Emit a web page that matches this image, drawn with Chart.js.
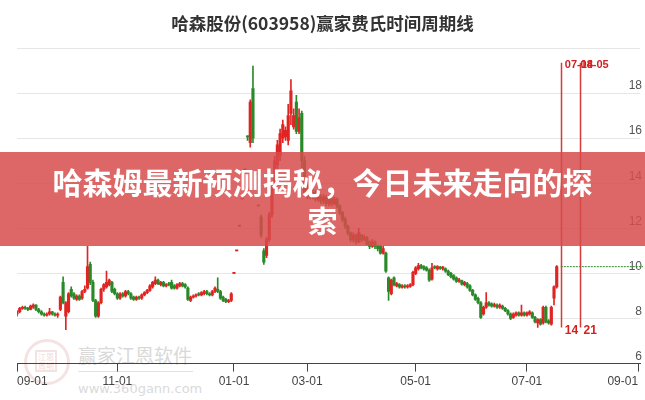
<!DOCTYPE html>
<html>
<head>
<meta charset="utf-8">
<script src="https://cdn.jsdelivr.net/npm/chart.js@4.4.1/dist/chart.umd.min.js"></script>
<style>
  html, body { margin: 0; padding: 0; background: #fff; }
  #cadre { position: relative; width: 645px; height: 400px; overflow: hidden; font-family: 'Noto Sans CJK SC', sans-serif; }
  #graph { position: absolute; left: 0; top: 0; }
  #titre { position: absolute; left: 0; top: 12px; width: 645px; text-align: center; font-size: 17.5px; font-weight: bold; color: #333; line-height: 22px; }
  #bandeau { position: absolute; left: 0; top: 152px; width: 645px; height: 94px; background: rgba(215, 75, 75, 0.85);
             color: #fff; font-weight: bold; font-size: 30px; line-height: 37.5px; text-align: center; padding-top: 11px; box-sizing: border-box; }
  #filigrane { position: absolute; left: 0; top: 0; width: 645px; height: 400px; }
  .sceau { position: absolute; left: 24px; top: 339px; width: 40px; height: 40px; border-radius: 50%; border: 3px solid rgba(215, 140, 140, 0.25); }
  .sceau div { position: absolute; left: 8px; top: 8px; width: 18px; height: 18px; border: 2px solid rgba(215, 140, 140, 0.25); font-size: 8px; line-height: 9px; color: rgba(215, 140, 140, 0.35); text-align: center; }
  .fil1 { position: absolute; left: 78px; top: 343px; font-size: 19px; color: #d9d9d9; line-height: 24px; }
  .fil2 { position: absolute; left: 78px; top: 381px; font-size: 13px; color: #dadada; font-family: 'DejaVu Sans', sans-serif; line-height: 16px; }
  .fil3 { position: absolute; left: 78px; top: 371px; width: 115px; height: 1px; background: #e2e2e2; }
</style>
</head>
<body>
<div id="cadre">
  <div id="filigrane">
    <div class="sceau"><div>江恩<br>周期</div></div>
    <div class="fil1">赢家江恩软件</div>
    <div class="fil3"></div>
    <div class="fil2">www.360gann.com</div>
  </div>
  <canvas id="graph" width="645" height="400"></canvas>
  <div id="titre">哈森股份(603958)赢家费氏时间周期线</div>
  <div id="bandeau">哈森姆最新预测揭秘，今日未来走向的探<br>索</div>
</div>
<script>
// Donnees (une bougie par seance, index = numero de seance)
var openP = [
  8.2,8.3,8.45,8.5,8.45,8.4,8.5,8.6,8.4,8.3,
  8.2,8.15,8.2,8.3,8.2,8.15,8.4,9.6,8.1,8.3,
  9.3,9.1,8.85,9.0,8.9,9.2,9.35,10.4,9.6,8.8,
  8.1,8.7,9.3,9.4,9.5,9.6,9.3,9.1,8.9,9.1,
  9.0,9.2,9.1,8.95,8.85,8.95,8.9,9.05,9.15,9.25,
  9.4,9.55,9.7,9.5,9.6,9.45,9.55,9.6,9.45,9.35,
  9.45,9.55,9.5,9.35,8.8,8.95,9.0,9.1,9.05,9.1,
  9.2,9.1,9.05,9.2,9.3,9.2,8.95,8.85,8.75,8.8,
  10.0,11.0,12.1,13.3,14.6,16.1,15.8,18.2,14.4,13.0,
  12.5,11.0,10.8,11.5,12.6,13.9,14.8,15.2,16.0,16.05,
  15.9,17.1,16.5,17.6,16.3,17.1,15.0,13.5,13.8,13.4,
  13.6,13.3,13.4,13.2,13.4,13.1,13.3,13.1,13.3,13.0,
  12.7,12.4,12.1,11.8,11.5,11.7,11.4,11.7,11.5,11.6,
  11.4,11.2,11.4,11.2,11.2,10.9,10.9,9.8,9.1,9.8,
  9.45,9.5,9.38,9.45,9.4,9.42,9.5,10.0,10.2,10.35,
  10.3,10.25,10.15,9.75,10.3,10.2,10.28,10.2,10.2,10.1,
  10.0,9.9,9.8,9.65,9.68,9.5,9.55,9.45,9.25,9.05,
  8.9,8.7,8.2,8.5,8.7,8.65,8.55,8.6,8.5,8.55,
  8.45,8.35,8.2,8.05,8.15,8.25,8.15,8.25,8.15,8.2,
  8.25,8.05,7.8,7.95,7.8,8.5,7.9,7.75,8.9,9.4
];
var closeP = [
  8.3,8.45,8.5,8.45,8.4,8.55,8.6,8.4,8.3,8.2,
  8.15,8.2,8.3,8.2,8.15,8.2,8.95,8.7,8.7,9.1,
  9.0,8.9,9.0,8.85,9.2,9.3,10.3,9.6,8.8,8.1,
  8.7,9.3,9.5,9.6,9.7,9.2,9.1,8.9,9.1,9.0,
  9.2,9.1,8.9,8.85,8.95,8.9,9.05,9.15,9.25,9.45,
  9.6,9.7,9.55,9.6,9.45,9.5,9.5,9.35,9.35,9.5,
  9.55,9.45,9.4,8.85,8.95,9.0,9.05,9.05,9.15,9.2,
  9.1,9.05,9.2,9.35,9.2,8.9,8.8,8.75,8.8,9.1,
  10.0,11.0,12.1,13.3,14.6,16.05,17.6,16.0,14.4,13.0,
  11.7,10.5,11.5,12.6,13.9,15.0,15.7,16.2,16.6,16.35,
  17.0,18.1,17.0,16.3,16.9,15.0,13.6,13.9,13.4,13.6,
  13.3,13.5,13.2,13.4,13.1,13.3,13.1,13.3,13.0,12.7,
  12.4,12.1,11.8,11.5,11.7,11.4,11.8,11.5,11.6,11.3,
  11.2,11.4,11.2,11.1,10.9,11.1,10.1,9.2,9.7,9.5,
  9.55,9.4,9.45,9.4,9.45,9.5,10.05,10.25,10.35,10.25,
  10.2,10.15,9.7,10.25,10.25,10.3,10.22,10.28,10.1,9.95,
  9.85,9.75,9.65,9.72,9.52,9.6,9.4,9.25,9.05,8.85,
  8.7,8.05,8.5,8.7,8.6,8.55,8.62,8.5,8.6,8.45,
  8.35,8.2,8.0,8.2,8.25,8.15,8.25,8.15,8.25,8.3,
  8.05,7.85,7.95,7.75,8.5,7.85,7.8,8.5,9.4,10.3
];
var highP = [
  8.35,8.5,8.55,8.55,8.5,8.6,8.65,8.62,8.45,8.35,
  8.25,8.25,8.45,8.32,8.25,8.25,9.0,9.85,8.75,9.15,
  9.4,9.15,9.05,9.05,9.25,9.45,11.2,10.5,9.7,8.85,
  8.75,9.35,9.55,10.1,9.75,9.65,9.35,9.15,9.15,9.15,
  9.25,9.25,9.15,9.0,9.0,9.0,9.1,9.2,9.3,9.5,
  9.65,9.85,9.75,9.65,9.65,9.55,9.6,9.7,9.5,9.55,
  9.6,9.6,9.55,9.4,9.0,9.05,9.1,9.15,9.2,9.25,
  9.25,9.15,9.25,9.4,9.8,9.25,9.0,8.9,8.85,9.15,
  10.0,11.0,12.1,13.3,14.6,16.1,17.7,19.2,14.4,13.0,
  12.6,11.1,11.6,12.7,13.9,15.2,15.9,16.4,16.8,16.5,
  17.5,18.6,17.3,17.9,17.3,17.2,15.2,14.1,13.9,13.7,
  13.7,13.6,13.5,13.5,13.45,13.4,13.35,13.4,13.35,13.05,
  12.75,12.5,12.15,11.85,11.8,11.75,12.0,11.75,11.7,11.65,
  11.45,11.5,11.45,11.25,11.25,11.2,10.95,9.85,9.75,9.85,
  9.6,9.55,9.5,9.5,9.5,9.55,10.1,10.3,10.45,10.4,
  10.35,10.3,10.2,10.45,10.35,10.35,10.32,10.32,10.25,10.15,
  10.05,9.95,9.85,9.78,9.7,9.65,9.6,9.5,9.3,9.1,
  8.95,8.75,8.55,9.15,8.75,8.7,8.68,8.65,8.65,8.6,
  8.5,8.4,8.25,8.25,8.3,8.3,8.6,8.3,8.3,8.35,
  8.3,8.1,8.0,8.0,8.55,8.55,7.95,8.55,9.45,10.35
];
var lowP = [
  8.1,8.25,8.4,8.4,8.35,8.38,8.45,8.35,8.25,8.15,
  8.1,8.1,8.15,8.15,8.1,8.05,8.35,8.65,7.5,8.25,
  8.95,8.85,8.8,8.8,8.85,9.15,9.3,9.5,8.75,8.05,
  8.05,8.65,9.2,9.35,9.45,9.15,9.05,8.85,8.85,8.95,
  8.95,9.05,8.85,8.8,8.8,8.85,8.85,9.0,9.1,9.2,
  9.35,9.5,9.5,9.45,9.4,9.4,9.45,9.3,9.3,9.3,
  9.4,9.4,9.35,8.8,8.75,8.9,8.95,9.0,9.0,9.05,
  9.05,9.0,9.0,9.15,9.15,8.85,8.75,8.7,8.7,8.75,
  10.0,11.0,12.1,13.3,14.6,15.9,15.6,15.8,14.4,13.0,
  11.6,10.4,10.7,11.4,12.5,13.8,14.6,15.0,15.8,15.9,
  15.7,16.6,16.4,16.2,16.2,14.6,13.5,13.3,13.3,13.3,
  13.2,13.2,13.1,13.1,13.0,13.0,13.0,13.05,12.9,12.6,
  12.3,12.0,11.7,11.4,11.4,11.3,11.35,11.4,11.45,11.25,
  11.1,11.15,11.1,11.0,10.85,10.85,10.05,8.8,9.05,9.45,
  9.4,9.35,9.35,9.35,9.35,9.38,9.45,9.95,10.15,10.2,
  10.15,10.1,9.65,9.7,10.2,10.15,10.18,10.15,10.05,9.9,
  9.8,9.7,9.6,9.6,9.48,9.45,9.35,9.2,9.0,8.8,
  8.65,8.0,8.15,8.45,8.55,8.5,8.5,8.45,8.45,8.4,
  8.3,8.15,7.95,8.0,8.1,8.1,8.1,8.1,8.1,8.15,
  8.0,7.8,7.6,7.7,7.75,7.8,7.75,7.7,8.6,9.35
];

// Axe des dates (index de seance -> libelle)
var tickIdx = [0, 37, 80, 107, 147, 188, 229];
var tickText = ['09-01', '11-01', '01-01', '03-01', '05-01', '07-01', '09-01'];
var xMax = 229.7;

// Lignes de cycle (index de seance) et leurs libelles
var cycleIdx = [200.5, 207.4];
var cycleHaut = ['07-14', '08-05'];
var cycleBas = ['14', '21'];
var cycleTop = 19.35;
var cycleBottom = 7.6;

var ROUGE = '#e02424';
var VERT = '#2a8a2a';
var NARROW = "'Liberation Sans Narrow', 'Liberation Sans', Arial, sans-serif";

// couleur de chaque bougie
var couleurs = [];
for (var i = 0; i < closeP.length; i++) {
    var hausse = closeP[i] > openP[i] || (closeP[i] == openP[i] && (i == 0 || closeP[i] >= closeP[i - 1]));
    couleurs.push(hausse ? ROUGE : VERT);
}
var ombres = [];
var corps = [];
for (var i = 0; i < closeP.length; i++) {
    ombres.push({x: i, y: [lowP[i], highP[i]]});
    corps.push({x: i, y: [openP[i], closeP[i]]});
}

// Dessin des lignes de cycle + ligne pointillee du dernier cours
const pluginCycle = {
    id: 'cycle',
    afterDatasetsDraw(chart) {
        const ctx = chart.ctx;
        const x = chart.scales.x;
        const y = chart.scales.y;
        ctx.save();
        // pointilles verts au niveau du dernier cours
        var yDernier = y.getPixelForValue(closeP[closeP.length - 1]);
        ctx.strokeStyle = VERT;
        ctx.lineWidth = 1;
        ctx.setLineDash([2, 1]);
        ctx.beginPath();
        ctx.moveTo(x.getPixelForValue(cycleIdx[0]), yDernier);
        ctx.lineTo(chart.width - 2, yDernier);
        ctx.stroke();
        ctx.setLineDash([]);
        // lignes verticales rouges
        ctx.strokeStyle = '#d83a3a';
        ctx.lineWidth = 1.5;
        for (var k = 0; k < cycleIdx.length; k++) {
            var px = Math.round(x.getPixelForValue(cycleIdx[k])) + 0.5;
            ctx.beginPath();
            ctx.moveTo(px, y.getPixelForValue(cycleTop));
            ctx.lineTo(px, y.getPixelForValue(cycleBottom));
            ctx.stroke();
        }
        ctx.fillStyle = '#d42020';
        ctx.font = 'bold 11px ' + NARROW;
        ctx.textBaseline = 'middle';
        ctx.textAlign = 'left';
        for (var k = 0; k < cycleIdx.length; k++) {
            var px = x.getPixelForValue(cycleIdx[k]);
            ctx.fillText(cycleHaut[k], px + 4 - k * 3, y.getPixelForValue(cycleTop) + 2);
        }
        ctx.font = 'bold 12px ' + NARROW;
        for (var k = 0; k < cycleIdx.length; k++) {
            var px = x.getPixelForValue(cycleIdx[k]);
            ctx.fillText(cycleBas[k], px + 4, y.getPixelForValue(cycleBottom) + 3);
        }
        ctx.restore();
    }
};

new Chart(document.getElementById('graph').getContext('2d'), {
    type: 'bar',
    data: {
        datasets: [
            {
                label: 'ombres',
                data: ombres,
                backgroundColor: couleurs,
                barThickness: 1,
                grouped: false
            },
            {
                label: 'corps',
                data: corps,
                backgroundColor: couleurs,
                barThickness: 2.5,
                minBarLength: 1,
                grouped: false
            }
        ]
    },
    options: {
        responsive: false,
        animation: false,
        devicePixelRatio: 1,
        layout: { padding: { left: 17, right: 1, top: 48, bottom: 8 } },
        plugins: { legend: { display: false }, tooltip: { enabled: false } },
        scales: {
            x: {
                type: 'linear',
                min: 0,
                max: xMax,
                offset: false,
                afterBuildTicks: function(axis) {
                    axis.ticks = tickIdx.map(function(v) { return {value: v}; });
                },
                ticks: {
                    align: 'inner',
                    padding: 3,
                    color: '#444',
                    font: { family: NARROW, size: 12 },
                    maxRotation: 0,
                    autoSkip: false,
                    callback: function(v, index) { return tickText[index]; }
                },
                grid: { display: true, drawOnChartArea: false, drawTicks: true, tickLength: 8, color: '#444', offset: false },
                border: { display: true, color: '#444' }
            },
            y: {
                type: 'linear',
                position: 'right',
                min: 6,
                max: 20,
                ticks: {
                    stepSize: 2,
                    mirror: true,
                    padding: 2,
                    labelOffset: -7,
                    color: '#555',
                    font: { family: NARROW, size: 12 },
                    callback: function(v) { return v == 20 ? '' : v; }
                },
                grid: { color: '#e6e6e6', drawTicks: false },
                border: { display: false }
            }
        }
    },
    plugins: [pluginCycle]
});
</script>
</body>
</html>
